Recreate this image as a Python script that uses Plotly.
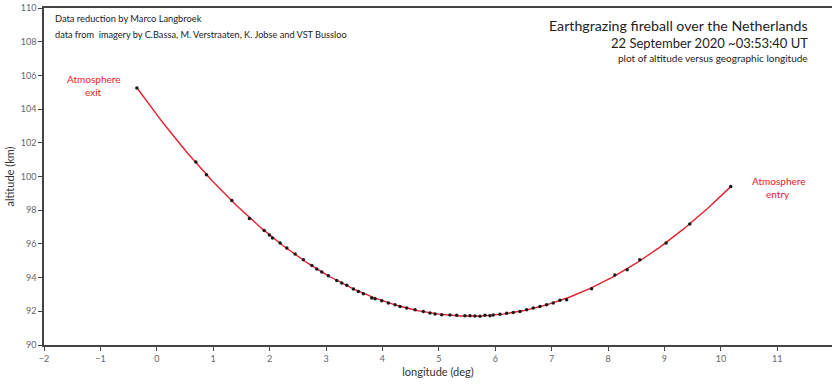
import numpy as np
import plotly.graph_objects as go

longitude = [-0.353, 0.693, 0.880, 1.330, 1.642, 1.903, 1.996, 2.050, 2.186, 2.305,
             2.452, 2.599, 2.748, 2.836, 2.925, 3.042, 3.190, 3.279, 3.368, 3.485,
             3.573, 3.662, 3.810, 3.869, 3.988, 4.105, 4.223, 4.312, 4.430, 4.578,
             4.725, 4.843, 4.932, 5.051, 5.197, 5.316, 5.463, 5.552, 5.640, 5.729,
             5.818, 5.906, 5.965, 6.083, 6.202, 6.319, 6.438, 6.556, 6.673, 6.792,
             6.911, 7.028, 7.147, 7.265, 7.708, 8.120, 8.338, 8.563, 9.029, 9.449,
             10.175]
altitude = [105.25, 100.86, 100.11, 98.58, 97.51, 96.80, 96.53, 96.35, 96.05, 95.76,
            95.40, 95.06, 94.72, 94.51, 94.33, 94.11, 93.83, 93.68, 93.54, 93.32,
            93.18, 93.04, 92.79, 92.75, 92.63, 92.49, 92.39, 92.29, 92.20, 92.09,
            91.99, 91.90, 91.84, 91.80, 91.78, 91.76, 91.74, 91.74, 91.72, 91.70,
            91.76, 91.74, 91.78, 91.82, 91.88, 91.93, 91.99, 92.09, 92.20, 92.29,
            92.39, 92.49, 92.65, 92.69, 93.34, 94.15, 94.47, 95.06, 96.05, 97.18,
            99.41]

x_ticks = list(range(-2, 12))
y_ticks = list(range(90, 111, 2))

FONT = "Lato"
RED = "#e5202e"
GREY = "#444444"

# least-squares fit curve through the measured points (as in the original plot)
coef = np.polyfit(longitude, altitude, 4)
fit_x = np.linspace(min(longitude), max(longitude), 300)
fit_y = np.polyval(coef, fit_x)

fig = go.Figure()
fig.add_trace(go.Scatter(x=fit_x, y=fit_y, mode="lines",
                         line=dict(color=RED, width=1.4),
                         hoverinfo="skip", showlegend=False))
fig.add_trace(go.Scatter(x=longitude, y=altitude, mode="markers",
                         marker=dict(color="#1a1a1a", size=3.5),
                         showlegend=False))

fig.update_layout(
    width=832, height=385,
    margin=dict(l=44, r=0, t=8, b=40),
    paper_bgcolor="white", plot_bgcolor="white",
    font=dict(family=FONT, color="#333333"),
    xaxis=dict(range=[-2, 11.97], tickvals=x_ticks, showgrid=False, zeroline=False,
               showline=True, linecolor=GREY, linewidth=1.5, mirror=True,
               ticks="outside", ticklen=4, tickcolor=GREY,
               tickfont=dict(size=9, color="#666666", family=FONT),
               title=dict(text="longitude (deg)", font=dict(size=11, color="#333333"), standoff=6)),
    yaxis=dict(range=[90, 110], tickvals=y_ticks, showgrid=False, zeroline=False,
               showline=True, linecolor=GREY, linewidth=1.5, mirror=False,
               ticks="outside", ticklen=4, tickcolor=GREY,
               tickfont=dict(size=9, color="#666666", family=FONT),
               title=dict(text="altitude (km)", font=dict(size=11, color="#333333"), standoff=4)),
)

W, H = 832, 385
L, R, T, B = 44, 0, 8, 40
pw, ph = W - L - R, H - T - B

ann = [
    dict(x=53, y=18, text="Data reduction by Marco Langbroek", size=9.3, color="#222222", xanchor="left"),
    dict(x=53, y=34, text="data from  imagery by C.Bassa, M. Verstraaten, K. Jobse and VST Bussloo", size=9.2, color="#222222", xanchor="left"),
    dict(x=810, y=26, text="Earthgrazing fireball over the Netherlands", size=14.2, color="#222222", xanchor="right"),
    dict(x=810, y=43, text="22 September 2020 ~03:53:40 UT", size=13, color="#222222", xanchor="right"),
    dict(x=810, y=58, text="plot of altitude versus geographic longitude", size=10, color="#222222", xanchor="right"),
    dict(x=93, y=79, text="Atmosphere", size=10, color=RED, xanchor="center"),
    dict(x=93, y=92, text="exit", size=10, color=RED, xanchor="center"),
    dict(x=778, y=181, text="Atmosphere", size=10, color=RED, xanchor="center"),
    dict(x=778, y=194, text="entry", size=10, color=RED, xanchor="center"),
]
for a in ann:
    fig.add_annotation(x=(a["x"] - L) / pw, y=(H - B - a["y"]) / ph, xref="paper", yref="paper",
                       text=a["text"], showarrow=False, xanchor=a["xanchor"], yanchor="middle",
                       font=dict(size=a["size"], color=a["color"], family=FONT))

fig.write_html("out.html")
